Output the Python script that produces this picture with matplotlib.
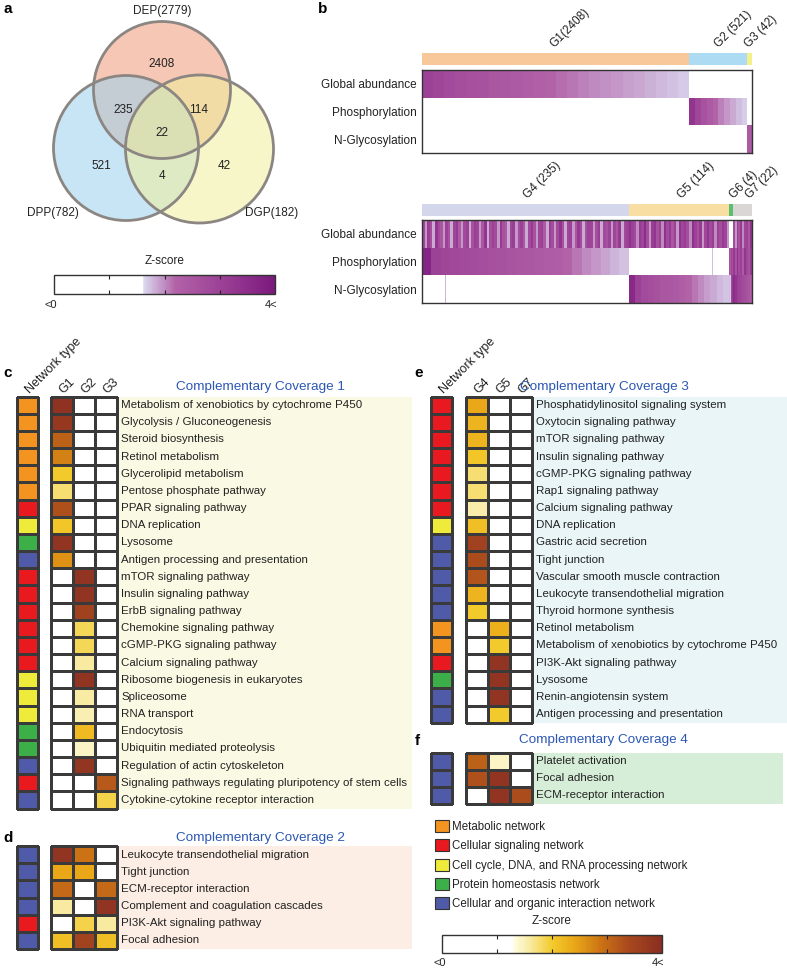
import numpy as np
import matplotlib
matplotlib.use("Agg")
import matplotlib.pyplot as plt
from matplotlib.colors import LinearSegmentedColormap, ListedColormap, Normalize
from matplotlib.patches import Circle, Patch
from matplotlib.cm import ScalarMappable

plt.rcParams['font.family'] = ['Liberation Sans', 'DejaVu Sans']

W, H = 787, 971

# ---------------- data ----------------
# panel a: venn counts
venn_names = ["DEP(2779)", "DPP(782)", "DGP(182)"]
venn_regions = ["DEP", "DPP", "DGP", "DEP&DPP", "DEP&DGP", "DPP&DGP", "all"]
venn_values = [2408, 521, 42, 235, 114, 4, 22]

# panel b: groups and z-scores
row_names = ["Global abundance", "Phosphorylation", "N-Glycosylation"]
top_groups = ["G1(2408)", "G2 (521)", "G3 (42)"]
top_counts = [2408, 521, 42]
top_colors = ["#F8C89A", "#AEDBF4", "#F4F08A"]
bot_groups = ["G4 (235)", "G5 (114)", "G6 (4)", "G7 (22)"]
bot_counts = [235, 114, 4, 22]
bot_colors = ["#D4D6EC", "#F8DEA2", "#5CBF70", "#DAD6D6"]

g1_global = [3.0, 2.9, 2.8, 2.7, 2.65, 2.6, 2.5, 2.45, 2.4, 2.3, 2.25, 2.2,
             2.15, 2.1, 2.05, 2.0, 1.97, 1.94, 1.9, 1.86, 1.82, 1.78, 1.74, 1.7]
g2_phospho = [3.3, 2.9, 2.6, 2.4, 2.2, 2.05, 1.95, 1.85, 1.76, 1.68]
g3_glyco = [2.4]

g4_global = [2.9, 1.95, 3.1, 2.7, 1.85, 3.3, 2.8, 2.5, 1.95, 3.0, 2.6, 1.85, 2.9, 3.2, 2.4, 1.95,
             2.8, 3.0, 1.85, 2.6, 3.1, 2.9, 1.95, 2.5, 3.3, 1.85, 2.7, 3.0, 2.8, 1.95, 3.2, 2.6,
             2.4, 1.85, 2.9, 3.1, 1.95, 2.7, 3.0, 2.5, 1.85, 2.8, 3.2, 2.6, 1.95, 2.9, 3.0, 2.4,
             1.85, 3.1, 2.7, 1.95, 2.8, 3.3, 2.6, 1.85, 2.9, 3.0, 1.95, 2.5, 3.2, 2.8, 1.85, 2.6,
             3.0, 2.9, 1.95, 2.7, 3.1, 1.85, 2.8, 2.6, 3.0, 1.95, 2.9, 2.5, 3.2, 1.85, 2.8, 3.0]
g5_global = [3.4, 3.0, 2.8, 2.0, 3.2, 2.9, 3.5, 2.7, 1.95, 3.1, 3.3, 2.6, 3.0, 2.0, 3.4, 2.8,
             3.2, 2.5, 3.0, 1.95, 3.3, 2.9, 3.1, 2.7, 2.0, 3.4, 3.0, 2.6, 3.2, 1.95, 2.9, 3.3,
             2.8, 3.1, 2.0, 3.0, 2.7, 3.2, 2.9, 1.95]
g6_global = [0.0]
g7_global = [2.8, 1.95, 3.1, 2.6, 3.2, 2.0, 2.9, 3.0, 2.5, 3.3]

g4_phospho = [3.7, 3.0, 2.9, 2.85, 2.8, 2.75, 2.7, 2.65, 2.6, 2.55, 2.5, 2.45, 2.4, 2.35,
              2.3, 2.2, 2.1, 2.0, 1.95, 1.88, 1.8, 1.74]
g5_phospho = [0.0] * 95 + [1.75] + [0.0] * 18
g6_phospho = [2.6, 2.4, 2.9, 2.7]
g7_phospho = [3.2, 2.6, 3.4, 2.8, 3.0, 2.4, 3.3, 2.9, 2.6, 3.1]

g4_glyco = [0.0] * 26 + [1.8] + [0.0] * 208
g5_glyco = [3.6, 3.0, 2.8, 2.7, 2.6, 2.5, 2.45, 2.4, 2.3, 2.2, 2.1, 2.0, 1.92, 1.85, 1.78, 1.72]
g6_glyco = [1.75, 1.7, 2.8, 3.2]
g7_glyco = [3.5, 3.3, 3.1, 3.0, 2.9, 2.8, 2.7, 2.6, 2.5, 2.3]

top_rows = [[g1_global, [0.0], [0.0]],
            [[0.0], g2_phospho, [0.0]],
            [[0.0], [0.0], g3_glyco]]
bot_rows = [[g4_global, g5_global, g6_global, g7_global],
            [g4_phospho, g5_phospho, g6_phospho, g7_phospho],
            [g4_glyco, g5_glyco, g6_glyco, g7_glyco]]

# network types
net_codes = ["M", "S", "C", "P", "I"]
net_labels = ["Metabolic network", "Cellular signaling network",
              "Cell cycle, DNA, and RNA processing network",
              "Protein homeostasis network", "Cellular and organic interaction network"]
net_colors = ["#F39421", "#E8191F", "#EEEB3A", "#3DAF49", "#4F5BA8"]

# panel c
c_names = ["Metabolism of xenobiotics by cytochrome P450", "Glycolysis / Gluconeogenesis",
           "Steroid biosynthesis", "Retinol metabolism", "Glycerolipid metabolism",
           "Pentose phosphate pathway", "PPAR signaling pathway", "DNA replication",
           "Lysosome", "Antigen processing and presentation", "mTOR signaling pathway",
           "Insulin signaling pathway", "ErbB signaling pathway", "Chemokine signaling pathway",
           "cGMP-PKG signaling pathway", "Calcium signaling pathway",
           "Ribosome biogenesis in eukaryotes", "Spliceosome", "RNA transport", "Endocytosis",
           "Ubiquitin mediated proteolysis", "Regulation of actin cytoskeleton",
           "Signaling pathways regulating pluripotency of stem cells",
           "Cytokine-cytokine receptor interaction"]
c_net = ["M", "M", "M", "M", "M", "M", "S", "C", "P", "I", "S", "S", "S", "S", "S", "S",
         "C", "C", "C", "P", "P", "I", "S", "I"]
c_g1 = [3.9, 3.75, 3.1, 2.75, 2.0, 1.75, 3.3, 2.05, 3.85, 2.6, 0, 0, 0, 0, 0, 0,
        0, 0, 0, 0, 0, 0, 0, 0]
c_g2 = [0, 0, 0, 0, 0, 0, 0, 0, 0, 0, 3.85, 3.85, 3.55, 1.85, 1.85, 1.6,
        3.85, 1.58, 1.52, 2.2, 1.45, 3.8, 0, 0]
c_g3 = [0] * 22 + [3.2, 1.9]

# panel d
d_names = ["Leukocyte transendothelial migration", "Tight junction", "ECM-receptor interaction",
           "Complement and coagulation cascades", "PI3K-Akt signaling pathway", "Focal adhesion"]
d_net = ["I", "I", "I", "I", "S", "I"]
d_g1 = [3.85, 2.4, 3.0, 1.6, 0, 2.15]
d_g2 = [2.9, 2.4, 0, 0, 1.9, 3.5]
d_g3 = [0, 0, 3.0, 3.85, 1.6, 2.15]

# panel e
e_names = ["Phosphatidylinositol signaling system", "Oxytocin signaling pathway",
           "mTOR signaling pathway", "Insulin signaling pathway", "cGMP-PKG signaling pathway",
           "Rap1 signaling pathway", "Calcium signaling pathway", "DNA replication",
           "Gastric acid secretion", "Tight junction", "Vascular smooth muscle contraction",
           "Leukocyte transendothelial migration", "Thyroid hormone synthesis",
           "Retinol metabolism", "Metabolism of xenobiotics by cytochrome P450",
           "PI3K-Akt signaling pathway", "Lysosome", "Renin-angiotensin system",
           "Antigen processing and presentation"]
e_net = ["S", "S", "S", "S", "S", "S", "S", "C", "I", "I", "I", "I", "I", "M", "M",
         "S", "P", "I", "I"]
e_g4 = [2.4, 2.25, 2.25, 2.05, 1.75, 1.75, 1.55, 2.15, 3.55, 3.35, 3.25, 2.25, 2.0,
        0, 0, 0, 0, 0, 0]
e_g5 = [0] * 13 + [2.3, 2.0, 3.85, 3.85, 3.85, 2.0]
e_g7 = [0] * 19

# panel f
f_names = ["Platelet activation", "Focal adhesion", "ECM-receptor interaction"]
f_net = ["I", "I", "I"]
f_g4 = [3.1, 3.3, 0]
f_g5 = [1.45, 3.85, 3.85]
f_g7 = [0, 0, 3.35]

# ---------------- styles ----------------
purple = LinearSegmentedColormap.from_list("zp", [
    (0, "#FFFFFF"), (0.40, "#FFFFFF"), (0.405, "#DADAF0"), (0.55, "#B262A8"),
    (0.8, "#973A92"), (1.0, "#7A197D")])
heat = LinearSegmentedColormap.from_list("zh", [
    (0, "#FFFFFF"), (0.32, "#FFFFFF"), (0.33, "#FFFCE0"), (0.40, "#F8EAA0"),
    (0.5, "#F3CB2C"), (0.6, "#EAA818"), (0.72, "#CC7414"), (0.85, "#A8481E"),
    (1.0, "#8A2E22")])
znorm = Normalize(0, 4)
net_cmap = ListedColormap(net_colors)
EDGE = "#3a3a3a"
ROW = 17.17
TITLE_BLUE = "#2B57B5"
TXT = "#222222"

fig = plt.figure(figsize=(W / 100, H / 100), dpi=100)


def box(x, y, w, h):
    return [x / W, 1 - (y + h) / H, w / W, h / H]


def ftext(x, y, s, **kw):
    fig.text(x / W, 1 - y / H, s, **kw)


# ---------------- panel a ----------------
ax = fig.add_axes(box(0, 0, 330, 240))
ax.set_xlim(0, 330)
ax.set_ylim(240, 0)
ax.axis("off")
circ = [((162, 90), 68.5, "#F09A78"), ((126, 148), 72.5, "#9BD1EF"), ((199.5, 149), 74, "#EFEF9B")]
for (cx, cy), r, col in circ:
    ax.add_patch(Circle((cx, cy), r, facecolor=col, alpha=0.55, edgecolor="none"))
for (cx, cy), r, col in circ:
    ax.add_patch(Circle((cx, cy), r, facecolor="none", edgecolor="#8C8682", lw=2.0))
venn_pos = {"DEP": (162, 64), "DPP": (101, 166), "DGP": (224, 166), "DEP&DPP": (123, 110),
            "DEP&DGP": (199, 110), "DPP&DGP": (162, 176), "all": (162, 133)}
for reg, v in zip(venn_regions, venn_values):
    ax.text(*venn_pos[reg], str(v), ha="center", va="center", fontsize=8.5, color=TXT)
for name, pos in zip(venn_names, [(162, 11), (53, 213), (272, 213)]):
    ax.text(*pos, name, ha="center", va="center", fontsize=8.5, color=TXT)


def zbar(x, y, w, h, cmap):
    cax = fig.add_axes(box(x, y, w, h))
    cb = fig.colorbar(ScalarMappable(znorm, cmap), cax=cax, orientation="horizontal")
    cb.set_ticks([1, 2, 3])
    cb.set_ticklabels(["", "", ""])
    cax.xaxis.set_ticks_position("both")
    cax.tick_params(axis="x", direction="in", length=3, width=0.8, color="#222")
    cb.outline.set_linewidth(1.0)
    cb.outline.set_edgecolor("#333")
    tr = cax.get_xaxis_transform()
    cax.text(-0.05, -0.3, "<0", transform=tr, ha="center", va="top", fontsize=8, color=TXT)
    cax.text(3.92, -0.3, "4<", transform=tr, ha="center", va="top", fontsize=8, color=TXT)
    ftext(x + w / 2, y - 14, "Z-score", ha="center", va="center", fontsize=8.5, color=TXT)


zbar(54, 275, 221, 19, purple)


# ---------------- panel b ----------------
def group_heat(y_bar, y_heat, counts, colors, groups, rows, offs):
    total = sum(counts)
    starts = np.concatenate([[0], np.cumsum(counts)[:-1]])
    bax = fig.add_axes(box(422, y_bar, 330, 12))
    bax.barh(0, counts, left=starts, color=colors, height=1)
    bax.set_xlim(0, total)
    bax.set_ylim(-0.5, 0.5)
    bax.axis("off")
    for s, c, g, o in zip(starts, counts, groups, offs):
        bax.annotate(g, xy=(s + c / 2, 1), xycoords=("data", "axes fraction"),
                     xytext=(o, 5), textcoords="offset pixels", rotation=45,
                     rotation_mode="anchor", ha="left", va="baseline", fontsize=8.5,
                     color=TXT)
    hax = fig.add_axes(box(422, y_heat, 330, 83))
    for r, row in enumerate(rows):
        for s, c, vals in zip(starts, counts, row):
            edges = np.linspace(s, s + c, len(vals) + 1)
            hax.pcolormesh(edges, [r, r + 1], np.array([vals]), cmap=purple, norm=znorm)
    hax.set_xlim(0, total)
    hax.set_ylim(3, 0)
    hax.set_xticks([])
    hax.set_yticks([0.5, 1.5, 2.5])
    hax.set_yticklabels(row_names, fontsize=8.5, color=TXT)
    hax.tick_params(axis="y", length=0, pad=4)
    for sp in hax.spines.values():
        sp.set_color("#333")
        sp.set_linewidth(1.0)


group_heat(53, 70, top_counts, top_colors, top_groups, top_rows, [-1, 0, -1])
group_heat(204, 220, bot_counts, bot_colors, bot_groups, bot_rows, [2, 3, 3, 8])


# ---------------- panels c-f ----------------
def pathway(x_net, x_heat, y_top, names, nets, cols, col_names, bg, bg_right,
            header=True):
    n = len(names)
    h = n * ROW
    nax = fig.add_axes(box(x_net, y_top, 21, h))
    idx = np.array([net_codes.index(c) for c in nets])[:, None]
    m = nax.pcolormesh(idx, cmap=net_cmap, vmin=-0.5, vmax=4.5, edgecolors=EDGE, linewidth=0.8)
    m.set_clip_on(False)
    nax.set_xlim(0, 1)
    nax.set_ylim(n, 0)
    nax.axis("off")
    hax = fig.add_axes(box(x_heat, y_top, 66, h))
    m = hax.pcolormesh(np.array(cols).T, cmap=heat, norm=znorm, edgecolors=EDGE, linewidth=0.8)
    m.set_clip_on(False)
    hax.set_xlim(0, 3)
    hax.set_ylim(n, 0)
    hax.axis("off")
    if header:
        for j, cn in enumerate(col_names):
            hax.text(j + 0.57, -0.15, cn, rotation=45, rotation_mode="anchor",
                     ha="left", va="baseline", fontsize=9, color=TXT)
        nax.text(0.63, -0.15, "Network type", rotation=45, rotation_mode="anchor",
                 ha="left", va="baseline", fontsize=9, color=TXT)
    bax = fig.add_axes(box(x_heat + 66, y_top, bg_right - x_heat - 66, h), zorder=-1)
    bax.set_facecolor(bg)
    bax.set_xlim(0, bg_right - x_heat - 66)
    bax.set_ylim(n, 0)
    for sp in bax.spines.values():
        sp.set_visible(False)
    bax.set_xticks([])
    bax.set_yticks([])
    for i, name in enumerate(names):
        bax.text(4, i + 0.5, name, va="center", ha="left", fontsize=8.25, color=TXT)


pathway(17, 51, 396.5, c_names, c_net, [c_g1, c_g2, c_g3], ["G1", "G2", "G3"],
        "#FAFAE4", 412)
pathway(17, 51, 846, d_names, d_net, [d_g1, d_g2, d_g3], ["G1", "G2", "G3"],
        "#FCEEE4", 412, header=False)
pathway(431, 466, 396.5, e_names, e_net, [e_g4, e_g5, e_g7], ["G4", "G5", "G7"],
        "#EAF5F8", 787)
pathway(431, 466, 752.5, f_names, f_net, [f_g4, f_g5, f_g7], ["G4", "G5", "G7"],
        "#D6EED8", 783, header=False)

for s, x, y in [("Complementary Coverage 1", 260, 387), ("Complementary Coverage 2", 260, 838),
                ("Complementary Coverage 3", 604, 387), ("Complementary Coverage 4", 603, 740)]:
    ftext(x, y, s, ha="center", va="center", fontsize=9.7, color=TITLE_BLUE)

# legend
handles = [Patch(facecolor=c, edgecolor="#333", linewidth=0.8) for c in net_colors]
fig.legend(handles, net_labels, loc="upper left",
           bbox_to_anchor=(435 / W, 1 - 820 / H), frameon=False, fontsize=8.3,
           handlelength=1.2, handleheight=1.2, handletextpad=0.3, labelspacing=0.57,
           borderpad=0, borderaxespad=0, labelcolor=TXT)

zbar(442, 935, 220, 18, heat)

# panel letters
for s, x, y in [("a", 4, 9), ("b", 318, 9), ("c", 3, 373), ("d", 3, 838),
                ("e", 414, 373), ("f", 415, 741)]:
    ftext(x, y, s, ha="left", va="center", fontsize=11, fontweight="bold")

fig.savefig("out.png", dpi=100)
